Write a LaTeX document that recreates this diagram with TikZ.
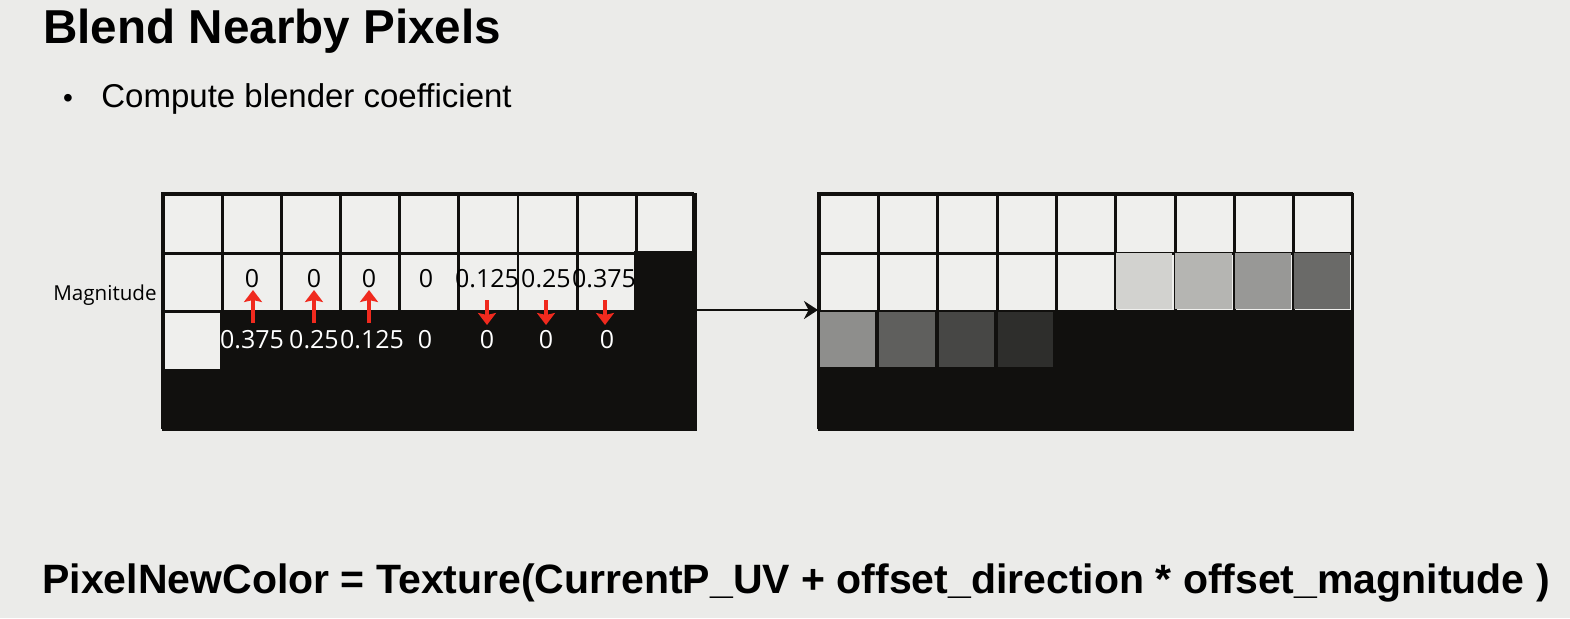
\documentclass[tikz,border=0pt]{standalone}
\usepackage{fontspec}
\setmainfont{Liberation Sans}
\newfontfamily\segoe{Open Sans}
\usetikzlibrary{arrows.meta}
\definecolor{bg}{HTML}{EBEBE9}
\definecolor{cellw}{HTML}{EFEFED}
\definecolor{blk}{HTML}{11100E}
\definecolor{arrred}{HTML}{F02A1E}
\tikzset{
 cell/.style={draw=blk,line width=1.4pt,fill=cellw,minimum size=29.5pt,inner sep=0pt,anchor=north west},
 num/.style={font=\segoe\fontsize{12.5}{14}\selectfont,inner sep=0pt},
 redarr/.style={draw=arrred,line width=1.7pt,-{Stealth[width=9pt,length=6pt,inset=1pt]}},
}
\begin{document}
\begin{tikzpicture}[x=0.5pt,y=-0.5pt]
\fill[bg] (0,0) rectangle (1570,618);
\useasboundingbox (0,0) rectangle (1570,618);
\node[anchor=west,font=\bfseries\fontsize{23.8}{27}\selectfont,inner sep=0pt] (title) at (43,31) {Blend Nearby Pixels};
\node[anchor=west,font=\fontsize{16.5}{19}\selectfont,inner sep=0pt] (bul) at (101,99) {Compute blender coefficient};
\node[anchor=center,font=\fontsize{14}{16}\selectfont,inner sep=0pt] (dot) at (68,101) {•};
% left grid
\foreach \r in {0,1,2,3}{\foreach \c in {0,...,8}{
  \node[cell] (L-\r-\c) at ({162+\c*59.1},{193+\r*58.7}) {};}}
\fill[blk] (220,310) -- (693,310) -- (693,428) -- (162,428) -- (162,369) -- (220,369) -- cycle;
\fill[blk] (634,251) rectangle (693,310);
\draw[blk,line width=1.4pt] (162,193) rectangle (693,428);
% right grid
\foreach \r in {0,1,2,3}{\foreach \c in {0,...,8}{
  \node[cell] (R-\r-\c) at ({818+\c*59.3},{193+\r*58.7}) {};}}
\fill[blk] (818,310) rectangle (1352,428);
\foreach \c/\g in {5/D2D2CF,6/B5B5B2,7/989896,8/6A6A68}{
  \definecolor{gc}{HTML}{\g}
  \fill[gc] ({818+\c*59.3+1.5},{251.7+1.5}) rectangle ++(56.3,55.7);}
\foreach \c/\g in {0/8E8E8C,1/5F5F5D,2/474745,3/2E2E2C}{
  \definecolor{gc}{HTML}{\g}
  \fill[gc] ({818+\c*59.3+2},{310.4+2}) rectangle ++(55.3,54.7);}
\draw[blk,line width=1.4pt] (818,193) rectangle (1352,428);
% magnitude label
\node[anchor=east,font=\segoe\fontsize{10.3}{12}\selectfont,inner sep=0pt] (mag) at (157,295) {Magnitude};
% top numbers
\foreach \x/\t [count=\i] in {252/0,314/0,369/0,426/0,487/0.125,546/0.25,604/0.375}{
  \node[num] (t\i) at (\x,279) {\t};}
\foreach \x/\t [count=\i] in {252/0.375,314/0.25,372/0.125,425/0,487/0,546/0,607/0}{
  \node[num,text=white] (b\i) at (\x,340) {\t};}
\foreach \i/\x in {1/253,2/314,3/369}{
  \coordinate (ua\i) at (\x,323); \coordinate (ub\i) at (\x,290);
  \draw[redarr] (ua\i) -- (ub\i);}
\foreach \i/\x in {5/487,6/546,7/605}{
  \coordinate (da\i) at (\x,300); \coordinate (db\i) at (\x,325);
  \draw[redarr] (da\i) -- (db\i);}
\coordinate (as) at (693,310); \coordinate (ae) at (818,310);
\draw[blk,line width=1.2pt,-{Stealth[width=9pt,length=7pt]}] (as) -- (ae);
\node[anchor=west,font=\bfseries\fontsize{20.5}{24}\selectfont,inner sep=0pt] (formula) at (42,583) {PixelNewColor = Texture(CurrentP\_UV + offset\_direction * offset\_magnitude )};
\end{tikzpicture}
\end{document}
